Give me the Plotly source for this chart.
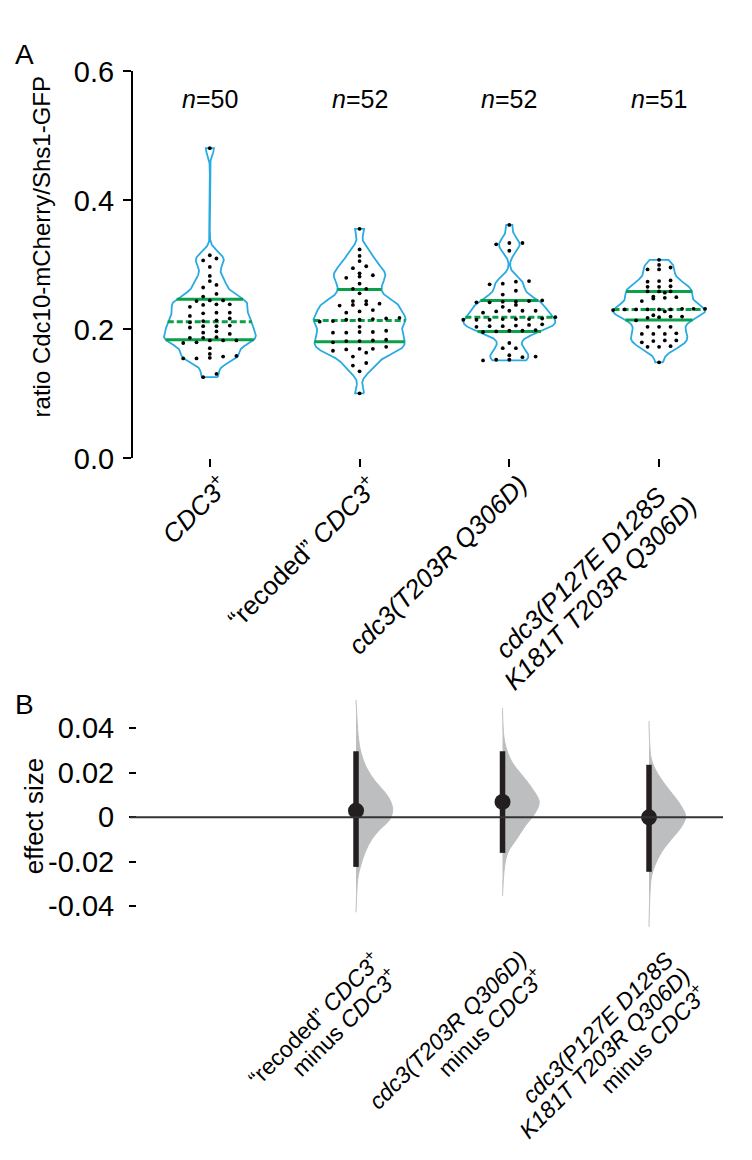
import re
import numpy as np
import plotly.graph_objects as go

# ---------------- data: panel A ----------------
group_lines_a = [
    ["<i>CDC3</i><sup>+</sup>"],
    ["“recoded” <i>CDC3</i><sup>+</sup>"],
    ["<i>cdc3(T203R Q306D)</i>"],
    ["<i>cdc3(P127E D128S</i>", "<i>K181T T203R Q306D)</i>"],
]
n_counts = [50, 52, 52, 51]

ratio_cdc3_wt = [0.481, 0.315, 0.310, 0.307, 0.297, 0.283, 0.275, 0.269, 0.265, 0.255,
                 0.251, 0.245, 0.245, 0.244, 0.239, 0.239, 0.238, 0.235, 0.226, 0.226,
                 0.225, 0.221, 0.217, 0.214, 0.213, 0.211, 0.206, 0.205, 0.205, 0.203,
                 0.197, 0.195, 0.193, 0.188, 0.187, 0.187, 0.183, 0.183, 0.183, 0.180,
                 0.179, 0.171, 0.162, 0.159, 0.158, 0.156, 0.155, 0.155, 0.131, 0.126]
ratio_recoded = [0.356, 0.324, 0.314, 0.306, 0.298, 0.295, 0.287, 0.284, 0.282, 0.280,
                 0.271, 0.263, 0.263, 0.256, 0.244, 0.244, 0.240, 0.239, 0.238, 0.237,
                 0.230, 0.228, 0.226, 0.218, 0.217, 0.216, 0.215, 0.215, 0.213, 0.212,
                 0.204, 0.198, 0.196, 0.196, 0.195, 0.195, 0.184, 0.183, 0.182, 0.182,
                 0.180, 0.173, 0.170, 0.170, 0.169, 0.167, 0.164, 0.158, 0.148, 0.144,
                 0.135, 0.101]
ratio_t203r = [0.362, 0.334, 0.334, 0.332, 0.322, 0.275, 0.274, 0.271, 0.270, 0.260,
               0.254, 0.245, 0.244, 0.243, 0.243, 0.242, 0.242, 0.238, 0.235, 0.229,
               0.229, 0.229, 0.228, 0.226, 0.219, 0.217, 0.216, 0.216, 0.216, 0.215,
               0.215, 0.215, 0.208, 0.207, 0.206, 0.205, 0.205, 0.204, 0.199, 0.198,
               0.198, 0.197, 0.196, 0.179, 0.171, 0.171, 0.160, 0.158, 0.157, 0.153,
               0.153, 0.152]
ratio_p127e = [0.308, 0.300, 0.296, 0.293, 0.293, 0.276, 0.275, 0.274, 0.267, 0.266,
               0.266, 0.259, 0.259, 0.259, 0.257, 0.251, 0.250, 0.249, 0.248, 0.244,
               0.232, 0.232, 0.232, 0.231, 0.231, 0.231, 0.231, 0.231, 0.230, 0.228,
               0.222, 0.220, 0.220, 0.219, 0.218, 0.214, 0.204, 0.204, 0.204, 0.194,
               0.193, 0.193, 0.193, 0.183, 0.183, 0.182, 0.180, 0.174, 0.173, 0.173,
               0.149]
groups_a = [ratio_cdc3_wt, ratio_recoded, ratio_t203r, ratio_p127e]
q1_a = [0.184, 0.181, 0.197, 0.2145]
median_a = [0.212, 0.214, 0.219, 0.231]
q3_a = [0.247, 0.262, 0.245, 0.259]
yticks_a = [0.0, 0.2, 0.4, 0.6]
yticktext_a = ["0.0", "0.2", "0.4", "0.6"]

# ---------------- data: panel B ----------------
group_lines_b = [
    ["“recoded” <i>CDC3</i><sup>+</sup>", "minus <i>CDC3</i><sup>+</sup>"],
    ["<i>cdc3(T203R Q306D)</i>", "minus <i>CDC3</i><sup>+</sup>"],
    ["<i>cdc3(P127E D128S</i>", "<i>K181T T203R Q306D)</i>", "minus <i>CDC3</i><sup>+</sup>"],
]
effect_mean = [0.0030, 0.0069, 0.0000]
effect_ci_low = [-0.0223, -0.0160, -0.0245]
effect_ci_high = [0.0297, 0.0297, 0.0236]
boot_y_1 = [0.0528, 0.0367, 0.0294, 0.0222, 0.0163, 0.0120, 0.0076, 0.0032, -0.0012,
            -0.0055, -0.0099, -0.0157, -0.0216, -0.0274, -0.0427]
boot_d_1 = [0.00, 0.06, 0.13, 0.29, 0.52, 0.75, 0.93, 1.00, 0.91, 0.65, 0.43, 0.25,
            0.13, 0.05, 0.00]
boot_y_2 = [0.0491, 0.0338, 0.0251, 0.0192, 0.0134, 0.0069, 0.0017, -0.0041, -0.0099,
            -0.0157, -0.0216, -0.0354]
boot_d_2 = [0.00, 0.06, 0.25, 0.52, 0.79, 1.00, 0.88, 0.61, 0.38, 0.15, 0.06, 0.00]
boot_y_3 = [0.0433, 0.0265, 0.0207, 0.0149, 0.0090, 0.0047, 0.0003, -0.0041, -0.0099,
            -0.0157, -0.0216, -0.0274, -0.0493]
boot_d_3 = [0.00, 0.06, 0.20, 0.43, 0.71, 0.89, 1.00, 0.89, 0.61, 0.34, 0.16, 0.06, 0.00]
boot_y = [boot_y_1, boot_y_2, boot_y_3]
boot_d = [boot_d_1, boot_d_2, boot_d_3]
yticks_b = [-0.04, -0.02, 0.0, 0.02, 0.04]
yticktext_b = ["-0.04", "-0.02", "0", "0.02", "0.04"]

# ---------------- styling / geometry ----------------
W, H = 752, 1160
FONT = "Liberation Sans, Arial, Helvetica, sans-serif"
BLUE = "#29ABE2"
GREEN = "#0DA04A"
DARK = "#231F20"
GRAY = "#BDBEC0"

A_left, A_right, A_top, A_bot = 133, 735, 57, 455
A_xrange = [-0.513, 3.507]
A_pxu = (A_right - A_left) / (A_xrange[1] - A_xrange[0])
B_axis, B_zero_left, B_right, B_top, B_bot = 137, 130, 723, 700.5, 943
B_xrange = [-0.495, 3.505]
B_yrange = [-0.052, 0.054]
B_pxu = (B_right - B_axis) / (B_xrange[1] - B_xrange[0])

VIOLIN_HALF = 46 / A_pxu
BW = 0.0105
BOOT_HALF = 36.7 / B_pxu

# Liberation Sans / Arial advance widths (em) for label text measurement
EM = {' ': .278, '(': .333, ')': .333, '+': .584, '0': .556, '1': .556, '2': .556, '3': .556,
      '6': .556, '7': .556, '8': .556, 'C': .722, 'D': .722, 'E': .667, 'K': .667, 'P': .667,
      'Q': .778, 'R': .722, 'S': .667, 'T': .611, 'c': .5, 'd': .556, 'e': .556, 'i': .222,
      'm': .833, 'n': .556, 'o': .556, 'r': .333, 's': .5, 'u': .556, '“': .333, '”': .333}


def px(x):
    return x / W


def py(y):
    return (H - y) / H


def line_em(s):
    total = 0.0
    for tok in re.split(r"(<sup>.*?</sup>)", s):
        plain = re.sub(r"<.*?>", "", tok)
        wsum = sum(EM.get(ch, 0.556) for ch in plain)
        total += 0.7 * wsum if tok.startswith("<sup>") else wsum
    return total


def kde(vals, grid, h):
    v = np.asarray(vals)[None, :]
    g = grid[:, None]
    return np.exp(-0.5 * ((g - v) / h) ** 2).sum(axis=1)


def swarm(vals, binw=0.0065, span_px=92, base_px=13.3):
    s = sorted(vals)
    rows = []
    for v in s:
        if rows and v - rows[-1][0] < binw:
            rows[-1].append(v)
        else:
            rows.append([v])
    maxk = max(len(r) for r in rows)
    sp = min(base_px, span_px / max(maxk - 1, 1)) / A_pxu
    xs, ys = [], []
    for r in rows:
        k = len(r)
        for j, v in enumerate(r):
            xs.append((j - (k - 1) / 2) * sp)
            ys.append(v)
    return np.array(xs), np.array(ys)


def rotated_label(lines, cat, xref, ybottom, size, dx0, dy0, spacing, align):
    """Block of lines rotated -45deg; its top-right corner sits at
    (tick + dx0, axis bottom + dy0) in pixels."""
    out = []
    ls = spacing * size
    widths = [line_em(l) * size for l in lines]
    wb = max(widths)
    for k, l in enumerate(lines):
        xt = -wb / 2 if align == "center" else -widths[k] / 2
        yt = (k + 0.5) * ls
        sx = 0.70711 * (xt + yt)
        sy = 0.70711 * (yt - xt)
        out.append(dict(text=l, x=cat, xref=xref, y=ybottom, yref="paper", textangle=-45,
                        showarrow=False, font=dict(size=size), xanchor="center",
                        yanchor="middle", xshift=dx0 + sx, yshift=-(dy0 + sy)))
    return out


fig = go.Figure()

# ---------------- panel A ----------------
for i, vals in enumerate(groups_a):
    grid = np.linspace(min(vals), max(vals), 400)
    d = kde(vals, grid, BW)
    w = d / d.max() * VIOLIN_HALF
    xo = np.concatenate([i + w, (i - w)[::-1], [i + w[0]]])
    yo = np.concatenate([grid, grid[::-1], [grid[0]]])
    fig.add_trace(go.Scatter(x=xo, y=yo, mode="lines", line=dict(color=BLUE, width=1.8),
                             xaxis="x", yaxis="y", hoverinfo="skip", showlegend=False))
    for q, dash in [(q1_a[i], "solid"), (q3_a[i], "solid"), (median_a[i], "6px,3px")]:
        wq = np.interp(q, grid, w)
        fig.add_trace(go.Scatter(x=[i - wq, i + wq], y=[q, q], mode="lines",
                                 line=dict(color=GREEN, width=3, dash=dash),
                                 xaxis="x", yaxis="y", hoverinfo="skip", showlegend=False))
    sx, sy = swarm(vals)
    fig.add_trace(go.Scatter(x=i + sx, y=sy, mode="markers",
                             marker=dict(color="black", size=3.8),
                             xaxis="x", yaxis="y", hoverinfo="skip", showlegend=False))

# ---------------- panel B ----------------
for j in range(3):
    c = j + 1
    yy = np.array(boot_y[j])
    ww = np.array(boot_d[j]) * BOOT_HALF
    xs = np.concatenate([[c], c + ww, [c]])
    ys = np.concatenate([[yy[0]], yy, [yy[-1]]])
    fig.add_trace(go.Scatter(x=xs, y=ys, mode="lines", fill="toself", fillcolor=GRAY,
                             line=dict(color=GRAY, width=1, shape="spline", smoothing=1.0),
                             xaxis="x2", yaxis="y2", hoverinfo="skip", showlegend=False))

for j in range(3):
    c = j + 1
    fig.add_trace(go.Scatter(x=[c, c], y=[effect_ci_low[j], effect_ci_high[j]], mode="lines",
                             line=dict(color=DARK, width=5.5),
                             xaxis="x2", yaxis="y2", hoverinfo="skip", showlegend=False))
fig.add_trace(go.Scatter(x=[1, 2, 3], y=effect_mean, mode="markers",
                         marker=dict(color=DARK, size=16),
                         xaxis="x2", yaxis="y2", hoverinfo="skip", showlegend=False))

# ---------------- axes ----------------
fig.update_layout(
    width=W, height=H, margin=dict(l=0, r=0, t=0, b=0),
    paper_bgcolor="white", plot_bgcolor="white",
    font=dict(family=FONT, color="black"),
    xaxis=dict(domain=[px(A_left), px(A_right)], range=A_xrange, anchor="y",
               showline=False, showgrid=False, zeroline=False,
               tickvals=[0, 1, 2, 3], ticks="outside", ticklen=8, tickwidth=2,
               tickcolor="black", showticklabels=False),
    yaxis=dict(domain=[py(A_bot), py(A_top)], range=[0, 0.6], anchor="x",
               showline=True, linewidth=2, linecolor="black", showgrid=False, zeroline=False,
               tickvals=yticks_a, ticktext=yticktext_a, ticks="outside", ticklen=8,
               tickwidth=2, tickcolor="black", ticklabelstandoff=3,
               tickfont=dict(size=29, family=FONT)),
    xaxis2=dict(domain=[px(B_axis), px(B_right)], range=B_xrange, anchor="y2",
                showline=False, showgrid=False, zeroline=False, ticks="",
                showticklabels=False),
    yaxis2=dict(domain=[py(B_bot), py(B_top)], range=B_yrange, anchor="x2",
                showline=False, showgrid=False, zeroline=False,
                tickvals=yticks_b, ticktext=yticktext_b, ticks="outside", ticklen=7,
                tickwidth=1.5, tickcolor="black", ticklabelstandoff=9,
                tickfont=dict(size=29, family=FONT)),
    shapes=[dict(type="line", xref="paper", yref="y2", x0=px(B_zero_left), x1=px(B_right),
                 y0=0, y1=0, line=dict(color="#333333", width=2), layer="above")],
)

ann = []
ann.append(dict(text="A", x=px(13), y=py(22), xref="paper", yref="paper",
                xanchor="left", yanchor="top", showarrow=False, font=dict(size=28)))
ann.append(dict(text="B", x=px(13), y=py(690), xref="paper", yref="paper",
                xanchor="left", yanchor="top", showarrow=False, font=dict(size=28)))
ann.append(dict(text="ratio Cdc10-mCherry/Shs1-GFP", x=px(41), y=py(238), xref="paper",
                yref="paper", textangle=-90, showarrow=False, font=dict(size=24),
                xanchor="center", yanchor="middle"))
ann.append(dict(text="effect size", x=px(34), y=py(823), xref="paper",
                yref="paper", textangle=-90, showarrow=False, font=dict(size=26),
                xanchor="center", yanchor="middle"))
for i, n in enumerate(n_counts):
    ann.append(dict(text=f"<i>n</i>={n}", x=i, y=0.558, xref="x", yref="y",
                    showarrow=False, font=dict(size=25), xanchor="center", yanchor="middle"))
for i, lines in enumerate(group_lines_a):
    ann += rotated_label(lines, i, "x", py(A_bot), 26, 3, 12, 1.1, "center")
for j, lines in enumerate(group_lines_b):
    ann += rotated_label(lines, j + 1, "x2", py(B_bot), 23, 12, 14, 1.03, "right")
fig.update_layout(annotations=ann)

fig.write_html("out.html", config={"displayModeBar": False},
               post_script="document.body.style.margin='0px';")
